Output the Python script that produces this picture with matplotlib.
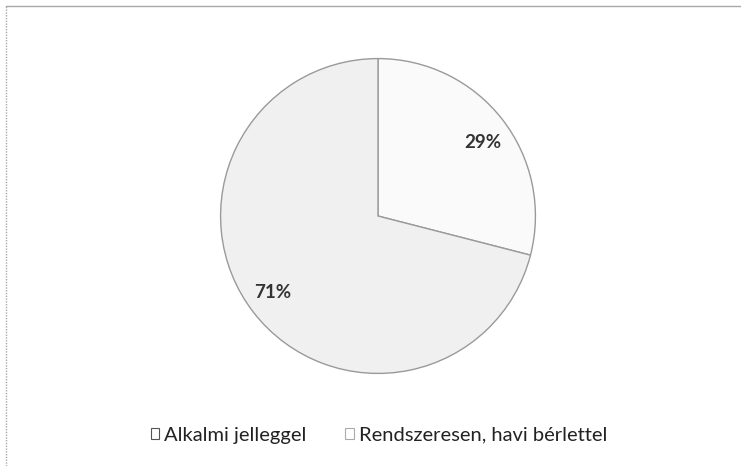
import matplotlib
matplotlib.use("Agg")
import matplotlib.pyplot as plt
from matplotlib.patches import Patch
from matplotlib.lines import Line2D

categories = ["Alkalmi jelleggel", "Rendszeresen, havi bérlettel"]
values = [29, 71]
value_labels = ["29%", "71%"]

plt.rcParams['font.family'] = ['Lato', 'DejaVu Sans']

fig = plt.figure(figsize=(7.41, 4.66), dpi=100)
fig.patch.set_facecolor("white")

ax = fig.add_axes([219/741, (466-375)/466, 318/741, 318/466])
face = ["#fafafa", "#f0f0f0"]
wedges, _ = ax.pie(values, startangle=90, counterclock=False, colors=face,
                   wedgeprops=dict(edgecolor="#9a9a9a", linewidth=1.0), radius=1.0)
ax.set_xlim(-1.01, 1.01)
ax.set_ylim(-1.01, 1.01)
ax.set_aspect("equal")
ax.axis("off")

label_pos = [(0.667, 0.465), (-0.667, -0.484)]
for txt, (x, y) in zip(value_labels, label_pos):
    ax.text(x, y, txt, ha="center", va="center", fontsize=13.5,
            fontweight="bold", color="#333333")

# frame lines (scan shows only top and left edges)
fig.add_artist(Line2D([6/741, 1.0], [1 - 6/466, 1 - 6/466], transform=fig.transFigure,
                      color="#a8a8a8", linewidth=1.0))
fig.add_artist(Line2D([6/741, 6/741], [0.0, 1 - 6/466], transform=fig.transFigure,
                      color="#a8a8a8", linewidth=1.0, linestyle=(0, (1, 1))))

handles = [Patch(facecolor="white", edgecolor="#555555", linewidth=0.8),
           Patch(facecolor="white", edgecolor="#aaaaaa", linewidth=0.8)]
leg = fig.legend(handles, categories, loc="center", bbox_to_anchor=(379/741, 1 - 435/466),
                 ncol=2, frameon=False, fontsize=14.5, handlelength=0.42, handleheight=0.42,
                 handletextpad=0.25, columnspacing=1.9)
for t in leg.get_texts():
    t.set_color("#222222")

fig.savefig("out.png", dpi=100, facecolor="white")
